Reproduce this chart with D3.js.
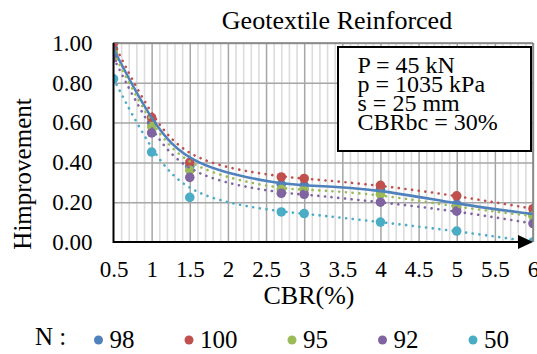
<!DOCTYPE html>
<html>
<head>
<meta charset="utf-8">
<script src="https://cdn.jsdelivr.net/npm/d3@7"></script>
<style>
  html, body { margin: 0; padding: 0; background: #fff; }
  svg { display: block; font-family: "Liberation Serif", "Times New Roman", serif; }
</style>
</head>
<body>
<div id="chart"></div>
<script>
// data
var cbr = [0.5, 1, 1.5, 2.7, 3, 4, 5, 6];
var seriesNames = ["98", "100", "95", "92", "50"];
var h98 = [0.97, 0.60, 0.38, 0.29, 0.285, 0.265, 0.19, 0.14];
var h100 = [1.00, 0.625, 0.40, 0.327, 0.319, 0.285, 0.232, 0.167];
var h95 = [0.95, 0.58, 0.36, 0.265, 0.265, 0.24, 0.175, 0.13];
var h92 = [0.925, 0.548, 0.325, 0.245, 0.24, 0.20, 0.155, 0.093];
var h50 = [0.82, 0.452, 0.224, 0.151, 0.143, 0.10, 0.055, 0.0];
var xTicks = [0.5, 1, 1.5, 2, 2.5, 3, 3.5, 4, 4.5, 5, 5.5, 6];
var yTicks = [0, 0.2, 0.4, 0.6, 0.8, 1.0];
var boxLines = ["P = 45 kN", "p = 1035 kPa", "s = 25 mm", "CBRbc = 30%"];

var serif = '"Liberation Serif", "Times New Roman", serif';
var colors = ["#4f81bd", "#c0504d", "#9bbb59", "#8064a2", "#4bacc6"];
var series = [h98, h100, h95, h92, h50].map(function(v, i) {
  return { name: seriesNames[i], values: v, color: colors[i], solid: i === 0 };
});

var W = 537, H = 354;
var pLeft = 113.5, pRight = 533, pTop = 43, pBottom = 242;

var svg = d3.select('#chart').append('svg')
  .attr('width', W).attr('height', H);

var x = d3.scaleLinear().domain([0.5, 6]).range([pLeft, pRight]);
var y = d3.scaleLinear().domain([0, 1]).range([pBottom, pTop]);

svg.append('defs').append('clipPath').attr('id', 'plotclip')
  .append('rect').attr('x', pLeft).attr('y', pTop - 1)
  .attr('width', pRight - pLeft).attr('height', pBottom - pTop + 1);

// minor vertical grid every 0.1
var minor = d3.range(6, 60).map(function(d) { return d / 10; })
  .filter(function(d) { return Math.abs(d * 2 - Math.round(d * 2)) > 1e-6; });
svg.append('g').attr('transform', 'translate(0,' + pBottom + ')')
  .call(d3.axisBottom(x).tickValues(minor).tickSize(-(pBottom - pTop)).tickFormat(''))
  .call(function(g) { g.select('.domain').remove(); })
  .selectAll('line').attr('stroke', '#dcdcdc').attr('stroke-width', 1.6);

// major grid
svg.append('g').attr('transform', 'translate(0,' + pBottom + ')')
  .call(d3.axisBottom(x).tickValues(xTicks.slice(1)).tickSize(-(pBottom - pTop)).tickFormat(''))
  .call(function(g) { g.select('.domain').remove(); })
  .selectAll('line').attr('stroke', '#a6a6a6').attr('stroke-width', 1.5);
svg.append('g').attr('transform', 'translate(' + pLeft + ',0)')
  .call(d3.axisLeft(y).tickValues(yTicks.slice(1)).tickSize(-(pRight - pLeft)).tickFormat(''))
  .call(function(g) { g.select('.domain').remove(); })
  .selectAll('line').attr('stroke', '#a6a6a6').attr('stroke-width', 1.5);

// axes labels
var yAxis = svg.append('g').attr('transform', 'translate(' + pLeft + ',0)')
  .call(d3.axisLeft(y).tickValues(yTicks).tickSize(0).tickPadding(21).tickFormat(d3.format('.2f')));
yAxis.select('.domain').remove();
yAxis.selectAll('text').attr('fill', '#000').style('font-family', serif).style('font-size', '23px');

var xAxis = svg.append('g').attr('transform', 'translate(0,' + pBottom + ')')
  .call(d3.axisBottom(x).tickValues(xTicks).tickSize(0).tickPadding(18.5).tickFormat(function(d) { return String(d); }));
xAxis.select('.domain').remove();
xAxis.selectAll('text').attr('fill', '#000').style('font-family', serif).style('font-size', '23px');

// markers
var plot = svg.append('g').attr('clip-path', 'url(#plotclip)');
series.forEach(function(s) {
  plot.append('g').selectAll('circle').data(s.values).enter().append('circle')
    .attr('cx', function(d, i) { return x(cbr[i]); })
    .attr('cy', function(d) { return y(d); })
    .attr('r', 4.8)
    .attr('fill', s.color);
});

// smoothed trend curves
var line = d3.line()
  .x(function(d, i) { return x(cbr[i]); })
  .y(function(d) { return y(d); })
  .curve(d3.curveBasis);
series.forEach(function(s) {
  plot.append('path')
    .datum(s.values)
    .attr('d', line)
    .attr('fill', 'none')
    .attr('stroke', s.color)
    .attr('stroke-width', 2.6)
    .attr('stroke-linecap', 'round')
    .attr('stroke-dasharray', s.solid ? null : '0.1 6.6');
});

// plot border + axes
svg.append('line').attr('x1', pLeft).attr('x2', pRight).attr('y1', pTop).attr('y2', pTop)
  .attr('stroke', '#808080').attr('stroke-width', 1.5);
svg.append('line').attr('x1', pRight).attr('x2', pRight).attr('y1', pTop).attr('y2', pBottom)
  .attr('stroke', '#808080').attr('stroke-width', 1.5);
svg.append('line').attr('x1', pLeft).attr('x2', pLeft).attr('y1', pTop).attr('y2', pBottom + 1)
  .attr('stroke', '#000').attr('stroke-width', 2);
svg.append('line').attr('x1', pLeft).attr('x2', pRight - 10).attr('y1', pBottom).attr('y2', pBottom)
  .attr('stroke', '#000').attr('stroke-width', 2);
svg.append('path')
  .attr('d', 'M' + (pRight - 15) + ',' + (pBottom - 7) + 'L' + pRight + ',' + pBottom + 'L' + (pRight - 15) + ',' + (pBottom + 7) + 'Z')
  .attr('fill', '#000');

// title and axis titles
svg.append('text').attr('x', 337).attr('y', 29).attr('text-anchor', 'middle')
  .attr('font-size', 26).text('Geotextile Reinforced');
svg.append('text').attr('x', 309).attr('y', 304).attr('text-anchor', 'middle')
  .attr('font-size', 26).text('CBR(%)');
svg.append('text').attr('transform', 'translate(31,174) rotate(-90)').attr('text-anchor', 'middle')
  .attr('font-size', 25).text('Himprovement');

// text box
svg.append('rect').attr('x', 338).attr('y', 47).attr('width', 193).attr('height', 104)
  .attr('fill', '#fff').attr('stroke', '#000').attr('stroke-width', 2);
svg.append('g').selectAll('text').data(boxLines).enter().append('text')
  .attr('x', 357.5)
  .attr('y', function(d, i) { return 72.5 + i * 19.2; })
  .attr('font-size', 24)
  .text(function(d) { return d; });

// legend
var legend = svg.append('g');
legend.append('text').attr('x', 35).attr('y', 345).attr('font-size', 25).text('N :');
var lx = 98.5;
series.forEach(function(s) {
  legend.append('circle').attr('cx', lx).attr('cy', 340).attr('r', 4.5).attr('fill', s.color);
  var t = legend.append('text').attr('x', lx + 11).attr('y', 348).attr('font-size', 25).text(s.name);
  lx = lx + 11 + t.node().getComputedTextLength() + 54.5;
});
</script>
</body>
</html>
